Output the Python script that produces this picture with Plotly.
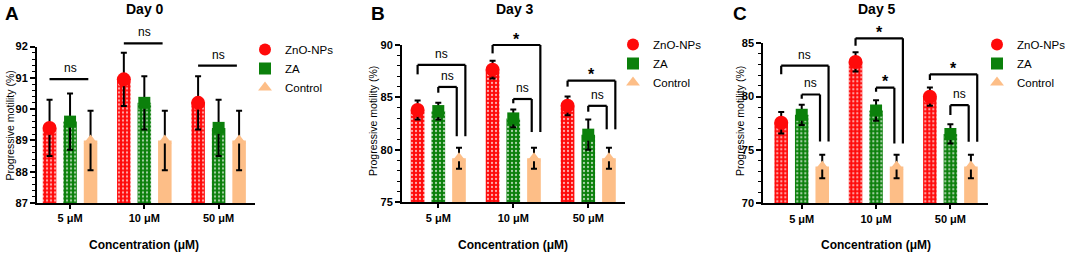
import plotly.graph_objects as go

# ---------------- data ----------------
categories = ["5 μM", "10 μM", "50 μM"]
series_names = ["ZnO-NPs", "ZA", "Control"]

day0_zno = [89.4, 90.95, 90.2]
day0_za = [89.6, 90.2, 89.4]
day0_ctrl = [89.0, 89.0, 89.0]
day0_zno_sd = [0.9, 0.85, 0.85]
day0_za_sd = [0.9, 0.85, 0.9]
day0_ctrl_sd = [0.95, 0.95, 0.95]

day3_zno = [83.8, 87.65, 84.2]
day3_za = [83.7, 83.0, 81.45]
day3_ctrl = [79.2, 79.2, 79.2]
day3_zno_sd = [0.9, 0.85, 0.9]
day3_za_sd = [0.8, 0.85, 1.45]
day3_ctrl_sd = [1.0, 1.0, 1.0]

day5_zno = [77.55, 83.25, 80.0]
day5_za = [78.3, 78.7, 76.5]
day5_ctrl = [73.45, 73.45, 73.45]
day5_zno_sd = [1.0, 0.9, 0.85]
day5_za_sd = [0.95, 0.95, 0.9]
day5_ctrl_sd = [1.1, 1.1, 1.1]

# significance labels
day0_sig = ["ns", "ns", "ns"]
day3_sig_outer = ["ns", "*", "*"]
day3_sig_inner = ["ns", "ns", "ns"]
day5_sig_outer = ["ns", "*", "*"]
day5_sig_inner = ["ns", "*", "ns"]

# ---------------- layout geometry (pixels) ----------------
W, H = 1065, 254
FONT = "Liberation Sans, Arial, sans-serif"
colors = ["#FF0A0A", "#0B800B", "#FDBE87"]
symbols = ["circle", "square", "triangle-up"]
msizes = [14, 12, 12]

panels = [
    dict(title="Day 0", letter="A", vals=[day0_zno, day0_za, day0_ctrl],
         sds=[day0_zno_sd, day0_za_sd, day0_ctrl_sd],
         px=(37, 255), py=(203, 46.5), yr=(87, 92), xr=(-0.445, 2.49),
         dtick=1, minor=0.2, title_x=145, letter_x=11.5, xt_x=144, yt_x=9.5, yt_y=126,
         leg_x=245, leg_y=35),
    dict(title="Day 3", letter="B", vals=[day3_zno, day3_za, day3_ctrl],
         sds=[day3_zno_sd, day3_za_sd, day3_ctrl_sd],
         px=(402, 625), py=(202.3, 45), yr=(75, 90), xr=(-0.484, 2.49),
         dtick=5, minor=1, title_x=515, letter_x=378, xt_x=513, yt_x=373, yt_y=121,
         leg_x=613, leg_y=30),
    dict(title="Day 5", letter="C", vals=[day5_zno, day5_za, day5_ctrl],
         sds=[day5_zno_sd, day5_za_sd, day5_ctrl_sd],
         px=(763.3, 988.3), py=(203.3, 43.3), yr=(70, 85), xr=(-0.517, 2.51),
         dtick=5, minor=1, title_x=876.5, letter_x=740, xt_x=876, yt_x=740, yt_y=121,
         leg_x=977, leg_y=30),
]

BARGAP = 0.172
BARGROUPGAP = 0.34
slot = (1 - BARGAP) / 3  # distance between bar centres inside a group


def xpos(cat, series):
    return cat + (series - 1) * slot


fig = go.Figure()
layout = dict(width=W, height=H, margin=dict(l=0, r=0, t=0, b=0, autoexpand=False),
              paper_bgcolor="white", plot_bgcolor="white",
              barmode="group", bargap=BARGAP, bargroupgap=BARGROUPGAP,
              scattermode="group", scattergap=BARGAP,
              font=dict(family=FONT, color="black"), showlegend=True)
shapes, annotations = [], []


def to_paper_y(v, p):
    lo, hi = p["yr"]
    y0 = 1 - p["py"][0] / H
    y1 = 1 - p["py"][1] / H
    return y0 + (v - lo) / (hi - lo) * (y1 - y0)


def text_at(text, x, y, size, angle=0):
    annotations.append(dict(text=text, x=x / W, y=1 - y / H, xref="paper", yref="paper",
                            xanchor="center", yanchor="middle", showarrow=False, textangle=angle,
                            font=dict(family=FONT, size=size, color="black")))


for i, p in enumerate(panels):
    n = "" if i == 0 else str(i + 1)
    xa, ya = "x" + n, "y" + n
    leg = "legend" + n
    for s in range(3):
        pattern = dict(shape=".", size=4, solidity=0.25, fgcolor="white", fgopacity=0.65) if s < 2 else None
        fig.add_trace(go.Bar(
            x=categories, y=p["vals"][s], name=series_names[s], xaxis=xa, yaxis=ya,
            marker=dict(color=colors[s], line=dict(width=0), pattern=pattern),
            error_y=dict(type="data", array=p["sds"][s], color="black", thickness=2, width=3),
            showlegend=False))
    for s in range(3):
        fig.add_trace(go.Scatter(
            x=categories, y=p["vals"][s], name=series_names[s], xaxis=xa, yaxis=ya,
            mode="markers", marker=dict(color=colors[s], symbol=symbols[s], size=msizes[s], line=dict(width=0)),
            legend=leg, legendgroup=f"{i}{s}", showlegend=True, cliponaxis=False))

    xd = (p["px"][0] / W, p["px"][1] / W)
    yd = (1 - p["py"][0] / H, 1 - p["py"][1] / H)
    layout["xaxis" + n] = dict(domain=xd, anchor=ya, type="category", range=list(p["xr"]),
                               showline=True, linecolor="black", linewidth=2, ticks="outside",
                               ticklen=4, tickwidth=1.5, tickcolor="black", showgrid=False, zeroline=False,
                               tickfont=dict(family=FONT, size=11, color="black", weight="bold"))
    layout["yaxis" + n] = dict(domain=yd, anchor=xa, range=list(p["yr"]), dtick=p["dtick"],
                               tick0=p["yr"][0],
                               showline=True, linecolor="black", linewidth=2, ticks="outside",
                               ticklen=5, tickwidth=1.5, tickcolor="black", showgrid=False, zeroline=False,
                               minor=dict(dtick=p["minor"], ticks="outside", ticklen=3, tickwidth=1,
                                          tickcolor="black", showgrid=False),
                               tickfont=dict(family=FONT, size=11, color="black", weight="bold"))
    layout[leg] = dict(x=p["leg_x"] / W, y=1 - p["leg_y"] / H, xanchor="left", yanchor="top",
                       font=dict(family=FONT, size=11.5, color="black"), bgcolor="rgba(0,0,0,0)",
                       itemsizing="constant", tracegroupgap=0)

    text_at("<b>" + p["title"] + "</b>", p["title_x"], 9, 14)
    text_at("<b>" + p["letter"] + "</b>", p["letter_x"], 13, 19)
    text_at("<b>Concentration (μM)</b>", p["xt_x"], 245, 12)
    text_at("Progressive motility (%)", p["yt_x"], p["yt_y"], 10.5, -90)

LW = 2.2


def hline(xr, x0, x1, v, p):
    shapes.append(dict(type="line", xref=xr, yref="paper", x0=x0, x1=x1,
                       y0=to_paper_y(v, p), y1=to_paper_y(v, p), line=dict(color="black", width=LW)))


def vline(xr, x, v0, v1, p):
    shapes.append(dict(type="line", xref=xr, yref="paper", x0=x, x1=x,
                       y0=to_paper_y(v0, p), y1=to_paper_y(v1, p), line=dict(color="black", width=LW)))


def label(xr, x, v, text, p):
    star = text == "*"
    annotations.append(dict(text=("<b>*</b>" if star else text), x=x, y=to_paper_y(v, p),
                            xref=xr, yref="paper", showarrow=False, xanchor="center", yanchor="middle",
                            yshift=(6 if star else 11),
                            font=dict(family=FONT, size=(16 if star else 12), color="black")))


# Day 0: plain lines
p = panels[0]
day0_line_y = [90.96, 92.1, 91.39]
for c in range(3):
    hline("x", xpos(c, 0), xpos(c, 2) - 0.03, day0_line_y[c], p)
    label("x", (xpos(c, 0) + xpos(c, 2)) / 2, day0_line_y[c], day0_sig[c], p)

# Day 3 / Day 5 brackets
bracket_sets = [
    (1, "x2", day3_sig_outer, [88.1, 90.0, 86.6], [87.2, 89.2, 86.03],
     day3_sig_inner, [86.0, 84.85, 84.2], [85.45, 84.44, 83.64], [81.3, 81.7, 81.96]),
    (2, "x3", day5_sig_outer, [82.9, 85.47, 82.09], [82.1, 84.78, 81.56],
     day5_sig_inner, [80.2, 80.84, 79.2], [79.8, 80.46, 78.28], [75.8, 75.6, 75.78]),
]
for (pi, xr, so, otop, oleft, si, itop, ileft, rbot) in bracket_sets:
    p = panels[pi]
    for c in range(3):
        xl, xrr = xpos(c, 0), xpos(c, 2) + 0.085
        hline(xr, xl, xrr, otop[c], p)
        vline(xr, xl, oleft[c], otop[c], p)
        vline(xr, xrr, rbot[c], otop[c], p)
        label(xr, (xl + xrr) / 2, otop[c], so[c], p)
        xl2, xr2 = xpos(c, 1), xpos(c, 2) - 0.03
        hline(xr, xl2, xr2, itop[c], p)
        vline(xr, xl2, ileft[c], itop[c], p)
        vline(xr, xr2, rbot[c], itop[c], p)
        label(xr, (xl2 + xr2) / 2, itop[c], si[c], p)

layout["shapes"] = shapes
layout["annotations"] = annotations
fig.update_layout(**layout)
fig.write_html("out.html", config={"displayModeBar": False},
               post_script="document.body.style.margin='0';")
